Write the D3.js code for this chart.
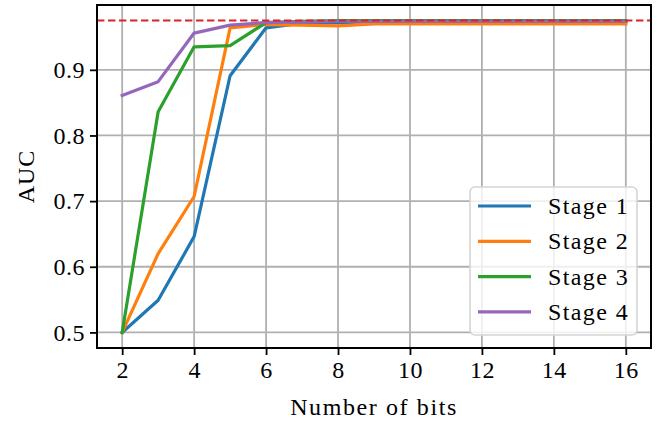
<!DOCTYPE html>
<html>
<head>
<meta charset="utf-8">
<script src="https://cdn.jsdelivr.net/npm/d3@7"></script>
<style>
  body { margin: 0; background: #fff; }
  text { font-family: "Liberation Serif", "DejaVu Serif", serif; }
</style>
</head>
<body>
<div id="chart"></div>
<script>
// values
var bits = [2, 3, 4, 5, 6, 7, 8, 9, 10, 11, 12, 13, 14, 15, 16]
var stage1 = [0.500, 0.549, 0.646, 0.891, 0.964, 0.971, 0.972, 0.973, 0.973, 0.973, 0.973, 0.973, 0.973, 0.973, 0.973]
var stage2 = [0.500, 0.620, 0.707, 0.964, 0.969, 0.968, 0.967, 0.970, 0.970, 0.970, 0.970, 0.970, 0.970, 0.970, 0.970]
var stage3 = [0.500, 0.836, 0.935, 0.937, 0.972, 0.974, 0.975, 0.975, 0.975, 0.975, 0.975, 0.975, 0.975, 0.975, 0.975]
var stage4 = [0.861, 0.882, 0.956, 0.968, 0.972, 0.973, 0.974, 0.974, 0.974, 0.974, 0.974, 0.974, 0.974, 0.974, 0.974]
var seriesNames = ["Stage 1", "Stage 2", "Stage 3", "Stage 4"]
var colors = ["#1f77b4", "#ff7f0e", "#2ca02c", "#9467bd"]
var xTicks = [2, 4, 6, 8, 10, 12, 14, 16]
var yTicks = [0.5, 0.6, 0.7, 0.8, 0.9]
var refLine = 0.975

var allSeries = [stage1, stage2, stage3, stage4]

var W = 660, H = 423
var margin = {top: 5, right: 9, bottom: 75, left: 97}
var width = W - margin.left - margin.right,
    height = H - margin.top - margin.bottom

var svg = d3.select("#chart")
  .append("svg")
    .attr("width", W)
    .attr("height", H)
  .append("g")
    .attr("transform", "translate(" + margin.left + "," + margin.top + ")")

var x = d3.scaleLinear()
  .domain([1.3, 16.7])
  .range([0, width])

var y = d3.scaleLinear()
  .domain([0.47625, 0.99875])
  .range([height, 0])

// grid
svg.append("g")
  .selectAll("line.gx")
  .data(xTicks)
  .enter()
  .append("line")
    .attr("x1", d => x(d)).attr("x2", d => x(d))
    .attr("y1", 0).attr("y2", height)
    .style("stroke", "#b0b0b0")
    .style("stroke-width", 1.8)

svg.append("g")
  .selectAll("line.gy")
  .data(yTicks)
  .enter()
  .append("line")
    .attr("x1", 0).attr("x2", width)
    .attr("y1", d => y(d)).attr("y2", d => y(d))
    .style("stroke", "#b0b0b0")
    .style("stroke-width", 1.8)

// lines
var line = d3.line()
  .x((d, i) => x(bits[i]))
  .y(d => y(d))

allSeries.forEach(function (s, k) {
  svg.append("path")
    .datum(s)
    .attr("d", line)
    .style("fill", "none")
    .style("stroke", colors[k])
    .style("stroke-width", 3.2)
    .style("stroke-linejoin", "round")
    .style("stroke-linecap", "square")
})

// reference line
svg.append("line")
  .attr("x1", 0).attr("x2", width)
  .attr("y1", y(refLine)).attr("y2", y(refLine))
  .style("stroke", "#d62728")
  .style("stroke-width", 2)
  .style("stroke-dasharray", "7.4,3.6")

// axes
var xAxis = svg.append("g")
  .attr("transform", "translate(0," + height + ")")
  .call(d3.axisBottom(x).tickValues(xTicks).tickSize(7).tickPadding(6).tickFormat(d3.format("d")))

var yAxis = svg.append("g")
  .call(d3.axisLeft(y).tickValues(yTicks).tickSize(7).tickPadding(5).tickFormat(d3.format(".1f")))

;[xAxis, yAxis].forEach(function (a) {
  a.select(".domain").remove()
  a.selectAll(".tick line").style("stroke", "#000").style("stroke-width", 1.8)
  a.selectAll(".tick text")
    .style("font-family", "Liberation Serif")
    .style("font-size", "24px")
    .style("letter-spacing", "0.5px")
    .style("fill", "#000")
})

// frame
svg.append("rect")
  .attr("x", 0).attr("y", 0)
  .attr("width", width).attr("height", height)
  .style("fill", "none")
  .style("stroke", "#000")
  .style("stroke-width", 2)

// axis labels
svg.append("text")
  .attr("x", width / 2)
  .attr("y", height + 67)
  .attr("text-anchor", "middle")
  .style("font-size", "24px")
  .style("letter-spacing", "1.6px")
  .text("Number of bits")

svg.append("text")
  .attr("transform", "translate(" + (-63) + "," + (height / 2) + ") rotate(-90)")
  .attr("text-anchor", "middle")
  .style("font-size", "24px")
  .style("letter-spacing", "1px")
  .text("AUC")

// legend
var legend = svg.append("g")
  .attr("transform", "translate(" + (470 - margin.left) + "," + (187 - margin.top) + ")")

legend.append("rect")
  .attr("width", 167).attr("height", 148)
  .attr("rx", 5)
  .style("fill", "rgba(255,255,255,0.8)")
  .style("stroke", "#d5d5d5")
  .style("stroke-width", 1.6)

seriesNames.forEach(function (name, k) {
  var yy = 19 + k * 35.3
  legend.append("line")
    .attr("x1", 8).attr("x2", 61)
    .attr("y1", yy).attr("y2", yy)
    .style("stroke", colors[k])
    .style("stroke-width", 3.2)
  legend.append("text")
    .attr("x", 78)
    .attr("y", yy + 8)
    .style("font-size", "24px")
    .style("letter-spacing", "1.4px")
    .text(name)
})
</script>
</body>
</html>
